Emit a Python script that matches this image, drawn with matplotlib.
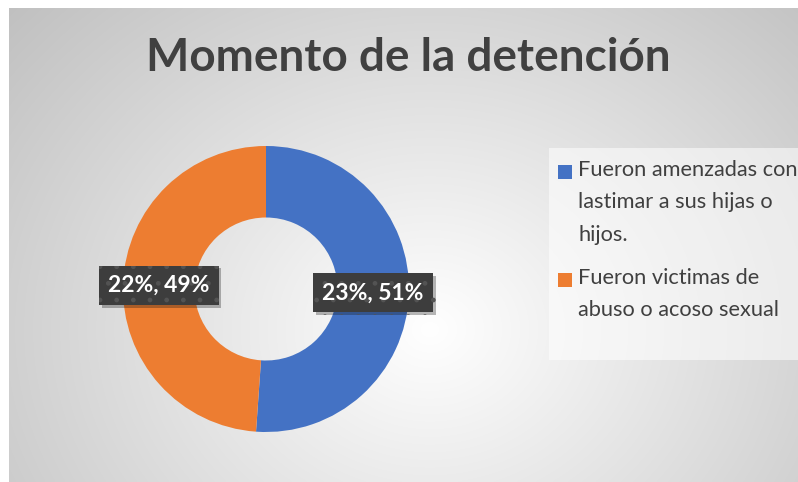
import numpy as np
import matplotlib
matplotlib.use("Agg")
import matplotlib.pyplot as plt
import matplotlib.patheffects as pe
from matplotlib.patches import Rectangle

title = "Momento de la detención"
labels = ["Fueron amenzadas con\nlastimar a sus hijas o\nhijos.",
          "Fueron victimas de\nabuso o acoso sexual"]
values = [23, 22]
colors = ["#4472C4", "#ED7D31"]

plt.rcParams["font.family"] = ["Lato", "DejaVu Sans"]

W, H = 798, 482
fig = plt.figure(figsize=(W / 100, H / 100), dpi=100)
fig.patch.set_facecolor("white")

# chart area background: soft radial gradient
bg = fig.add_axes([9 / W, 0, 1 - 9 / W, 1 - 8 / H])
bg.set_axis_off()
xx, yy = np.meshgrid(np.linspace(9, W, 400), np.linspace(8, H, 250))
t = np.sqrt(((xx - 430) / 470) ** 2 + ((yy - 330) / 400) ** 2)
g = np.clip(255 - 52 * t, 190, 255) / 255
bg.imshow(np.dstack([g, g, g]), extent=[0, 1, 0, 1], origin="upper",
          aspect="auto", interpolation="bilinear")
bg.set_xlim(0, 1)
bg.set_ylim(0, 1)

fig.text(408 / W, 1 - 58 / H, title, ha="center", va="center",
         fontsize=33, fontweight="bold", color="#404040")

# donut
cx, cy, r = 266, 289, 143
ax = fig.add_axes([(cx - r) / W, (H - cy - r) / H, 2 * r / W, 2 * r / H])
total = sum(values)
wedges, texts, autotexts = ax.pie(
    values, colors=colors, startangle=90, counterclock=False,
    wedgeprops=dict(width=0.5, linewidth=0),
    autopct=lambda p: f"{round(p * total / 100)}%, {p:.0f}%",
    pctdistance=0.75,
)
ax.set_xlim(-1, 1)
ax.set_ylim(-1, 1)
for at in autotexts:
    at.set_color("white")
    at.set_fontsize(16.5)
    at.set_fontweight("bold")
    at.set_bbox(dict(boxstyle="square,pad=0.4", fc="#3d3d3d", ec="#535353",
                     hatch=".", lw=0))
    at.get_bbox_patch().set_path_effects(
        [pe.SimplePatchShadow(offset=(2, -2), alpha=0.3), pe.Normal()])

# legend
fig.patches.append(Rectangle((549 / W, 1 - 360 / H), (W - 549) / W, 212 / H,
                             transform=fig.transFigure, fc="white",
                             alpha=0.55, lw=0))
entry_y = [172, 280]
for lab, col, y in zip(labels, colors, entry_y):
    fig.patches.append(Rectangle((558 / W, 1 - (y + 6.5) / H), 14 / W, 14 / H,
                                 transform=fig.transFigure, fc=col, lw=0))
    fig.text(578 / W, 1 - (y - 12) / H, lab, ha="left", va="top",
             fontsize=15.7, color="#404040", linespacing=1.78)

fig.savefig("out.png", dpi=100)
